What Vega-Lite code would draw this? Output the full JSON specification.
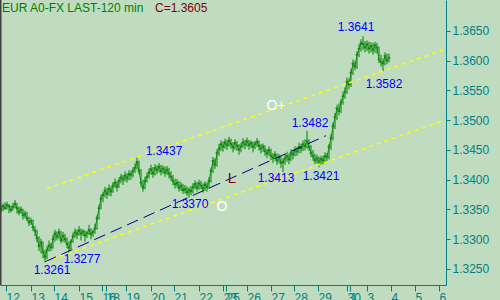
{
  "$schema": "https://vega.github.io/schema/vega-lite/v6.json",
  "width": 446,
  "height": 285,
  "autosize": "none",
  "padding": {"left": 0, "top": 0, "right": 54, "bottom": 15},
  "background": "#C0DCC0",
  "config": {
    "view": {"stroke": null},
    "font": "Liberation Sans",
    "axisX": {"grid": false, "domainColor": "#008080", "tickColor": "#008080", "labelColor": "#008080", "tickSize": 6, "labelFontSize": 12, "labelFont": "Liberation Sans", "labelAlign": "left", "labelBaseline": "top", "labelPadding": 1, "labelOverlap": false, "labelFlush": false, "labelBound": false},
    "axisY": {"grid": false, "domainColor": "#008080", "tickColor": "#008080", "labelColor": "#008080", "tickSize": 4, "labelFontSize": 12, "labelFont": "Liberation Sans", "labelPadding": 2, "labelOverlap": false, "labelFlush": false, "labelBound": false}
  },
  "datasets": {
    "px": [
      {"t":0,"c":1.3350,"h":1.3356,"l":1.3345},{"t":1,"c":1.3356,"h":1.3360,"l":1.3347},{"t":2,"c":1.3352,"h":1.3362,"l":1.3349},{"t":3,"c":1.3358,"h":1.3363,"l":1.3350},{"t":4,"c":1.3355,"h":1.3359,"l":1.3344},
      {"t":5,"c":1.3349,"h":1.3357,"l":1.3345},{"t":6,"c":1.3354,"h":1.3361,"l":1.3348},{"t":7,"c":1.3360,"h":1.3366,"l":1.3352},{"t":8,"c":1.3352,"h":1.3361,"l":1.3343},{"t":9,"c":1.3345,"h":1.3355,"l":1.3340},
      {"t":10,"c":1.3350,"h":1.3355,"l":1.3343},{"t":11,"c":1.3340,"h":1.3351,"l":1.3333},{"t":12,"c":1.3343,"h":1.3348,"l":1.3335},{"t":13,"c":1.3335,"h":1.3346,"l":1.3330},{"t":14,"c":1.3328,"h":1.3338,"l":1.3322},
      {"t":15,"c":1.3331,"h":1.3336,"l":1.3324},{"t":16,"c":1.3320,"h":1.3333,"l":1.3314},{"t":17,"c":1.3314,"h":1.3322,"l":1.3305},{"t":18,"c":1.3302,"h":1.3316,"l":1.3295},{"t":19,"c":1.3288,"h":1.3305,"l":1.3280},
      {"t":20,"c":1.3295,"h":1.3301,"l":1.3276},{"t":21,"c":1.3278,"h":1.3296,"l":1.3268},{"t":22,"c":1.3270,"h":1.3282,"l":1.3261},{"t":23,"c":1.3282,"h":1.3289,"l":1.3266},{"t":24,"c":1.3290,"h":1.3298,"l":1.3279},
      {"t":25,"c":1.3286,"h":1.3294,"l":1.3280},{"t":26,"c":1.3300,"h":1.3308,"l":1.3284},{"t":27,"c":1.3310,"h":1.3316,"l":1.3296},{"t":28,"c":1.3304,"h":1.3313,"l":1.3298},{"t":29,"c":1.3312,"h":1.3318,"l":1.3300},
      {"t":30,"c":1.3298,"h":1.3314,"l":1.3293},{"t":31,"c":1.3306,"h":1.3312,"l":1.3295},{"t":32,"c":1.3300,"h":1.3309,"l":1.3294},{"t":33,"c":1.3292,"h":1.3303,"l":1.3285},{"t":34,"c":1.3285,"h":1.3296,"l":1.3277},
      {"t":35,"c":1.3296,"h":1.3300,"l":1.3283},{"t":36,"c":1.3305,"h":1.3311,"l":1.3294},{"t":37,"c":1.3312,"h":1.3318,"l":1.3302},{"t":38,"c":1.3308,"h":1.3316,"l":1.3300},{"t":39,"c":1.3315,"h":1.3322,"l":1.3306},
      {"t":40,"c":1.3309,"h":1.3318,"l":1.3298},{"t":41,"c":1.3313,"h":1.3317,"l":1.3305},{"t":42,"c":1.3306,"h":1.3315,"l":1.3296},{"t":43,"c":1.3310,"h":1.3314,"l":1.3302},{"t":44,"c":1.3316,"h":1.3324,"l":1.3307},
      {"t":45,"c":1.3308,"h":1.3318,"l":1.3300},{"t":46,"c":1.3312,"h":1.3316,"l":1.3304},{"t":47,"c":1.3318,"h":1.3326,"l":1.3309},{"t":48,"c":1.3335,"h":1.3340,"l":1.3316},{"t":49,"c":1.3352,"h":1.3358,"l":1.3333},
      {"t":50,"c":1.3368,"h":1.3375,"l":1.3350},{"t":51,"c":1.3374,"h":1.3380,"l":1.3362},{"t":52,"c":1.3382,"h":1.3388,"l":1.3370},{"t":53,"c":1.3376,"h":1.3386,"l":1.3368},{"t":54,"c":1.3385,"h":1.3392,"l":1.3373},
      {"t":55,"c":1.3380,"h":1.3389,"l":1.3372},{"t":56,"c":1.3390,"h":1.3396,"l":1.3378},{"t":57,"c":1.3395,"h":1.3402,"l":1.3386},{"t":58,"c":1.3388,"h":1.3398,"l":1.3380},{"t":59,"c":1.3398,"h":1.3404,"l":1.3386},
      {"t":60,"c":1.3404,"h":1.3410,"l":1.3394},{"t":61,"c":1.3400,"h":1.3408,"l":1.3391},{"t":62,"c":1.3407,"h":1.3414,"l":1.3397},{"t":63,"c":1.3402,"h":1.3411,"l":1.3395},{"t":64,"c":1.3410,"h":1.3416,"l":1.3399},
      {"t":65,"c":1.3408,"h":1.3415,"l":1.3400},{"t":66,"c":1.3415,"h":1.3421,"l":1.3404},{"t":67,"c":1.3420,"h":1.3428,"l":1.3411},{"t":68,"c":1.3430,"h":1.3437,"l":1.3417},{"t":69,"c":1.3415,"h":1.3432,"l":1.3409},
      {"t":70,"c":1.3395,"h":1.3418,"l":1.3388},{"t":71,"c":1.3386,"h":1.3400,"l":1.3380},{"t":72,"c":1.3398,"h":1.3405,"l":1.3384},{"t":73,"c":1.3405,"h":1.3412,"l":1.3395},{"t":74,"c":1.3412,"h":1.3419,"l":1.3402},
      {"t":75,"c":1.3418,"h":1.3425,"l":1.3408},{"t":76,"c":1.3410,"h":1.3421,"l":1.3403},{"t":77,"c":1.3420,"h":1.3426,"l":1.3407},{"t":78,"c":1.3416,"h":1.3424,"l":1.3409},{"t":79,"c":1.3422,"h":1.3428,"l":1.3412},
      {"t":80,"c":1.3414,"h":1.3425,"l":1.3407},{"t":81,"c":1.3419,"h":1.3424,"l":1.3410},{"t":82,"c":1.3412,"h":1.3422,"l":1.3405},{"t":83,"c":1.3417,"h":1.3423,"l":1.3408},{"t":84,"c":1.3410,"h":1.3420,"l":1.3402},
      {"t":85,"c":1.3405,"h":1.3414,"l":1.3398},{"t":86,"c":1.3398,"h":1.3408,"l":1.3391},{"t":87,"c":1.3392,"h":1.3402,"l":1.3385},{"t":88,"c":1.3395,"h":1.3401,"l":1.3387},{"t":89,"c":1.3386,"h":1.3398,"l":1.3380},
      {"t":90,"c":1.3390,"h":1.3396,"l":1.3381},{"t":91,"c":1.3382,"h":1.3393,"l":1.3376},{"t":92,"c":1.3385,"h":1.3391,"l":1.3377},{"t":93,"c":1.3378,"h":1.3389,"l":1.3373},{"t":94,"c":1.3383,"h":1.3387,"l":1.3370},
      {"t":95,"c":1.3380,"h":1.3389,"l":1.3374},{"t":96,"c":1.3388,"h":1.3394,"l":1.3377},{"t":97,"c":1.3393,"h":1.3399,"l":1.3384},{"t":98,"c":1.3386,"h":1.3396,"l":1.3380},{"t":99,"c":1.3394,"h":1.3400,"l":1.3383},
      {"t":100,"c":1.3390,"h":1.3398,"l":1.3384},{"t":101,"c":1.3385,"h":1.3394,"l":1.3378},{"t":102,"c":1.3392,"h":1.3397,"l":1.3381},{"t":103,"c":1.3387,"h":1.3396,"l":1.3380},{"t":104,"c":1.3398,"h":1.3404,"l":1.3385},
      {"t":105,"c":1.3415,"h":1.3420,"l":1.3395},{"t":106,"c":1.3432,"h":1.3438,"l":1.3411},{"t":107,"c":1.3425,"h":1.3436,"l":1.3418},{"t":108,"c":1.3445,"h":1.3451,"l":1.3422},{"t":109,"c":1.3452,"h":1.3460,"l":1.3440},
      {"t":110,"c":1.3460,"h":1.3466,"l":1.3448},{"t":111,"c":1.3455,"h":1.3464,"l":1.3447},{"t":112,"c":1.3463,"h":1.3469,"l":1.3452},{"t":113,"c":1.3458,"h":1.3467,"l":1.3450},{"t":114,"c":1.3466,"h":1.3472,"l":1.3455},
      {"t":115,"c":1.3460,"h":1.3469,"l":1.3452},{"t":116,"c":1.3454,"h":1.3463,"l":1.3446},{"t":117,"c":1.3462,"h":1.3468,"l":1.3450},{"t":118,"c":1.3457,"h":1.3465,"l":1.3449},{"t":119,"c":1.3450,"h":1.3460,"l":1.3442},
      {"t":120,"c":1.3456,"h":1.3462,"l":1.3446},{"t":121,"c":1.3463,"h":1.3470,"l":1.3453},{"t":122,"c":1.3459,"h":1.3467,"l":1.3451},{"t":123,"c":1.3465,"h":1.3471,"l":1.3455},{"t":124,"c":1.3458,"h":1.3467,"l":1.3450},
      {"t":125,"c":1.3462,"h":1.3466,"l":1.3453},{"t":126,"c":1.3455,"h":1.3464,"l":1.3446},{"t":127,"c":1.3460,"h":1.3465,"l":1.3451},{"t":128,"c":1.3464,"h":1.3470,"l":1.3455},{"t":129,"c":1.3457,"h":1.3466,"l":1.3449},
      {"t":130,"c":1.3452,"h":1.3460,"l":1.3444},{"t":131,"c":1.3456,"h":1.3461,"l":1.3447},{"t":132,"c":1.3448,"h":1.3458,"l":1.3440},{"t":133,"c":1.3444,"h":1.3452,"l":1.3436},{"t":134,"c":1.3450,"h":1.3456,"l":1.3440},
      {"t":135,"c":1.3440,"h":1.3452,"l":1.3433},{"t":136,"c":1.3436,"h":1.3445,"l":1.3428},{"t":137,"c":1.3442,"h":1.3448,"l":1.3432},{"t":138,"c":1.3432,"h":1.3444,"l":1.3425},{"t":139,"c":1.3438,"h":1.3443,"l":1.3428},
      {"t":140,"c":1.3428,"h":1.3440,"l":1.3420},{"t":141,"c":1.3430,"h":1.3436,"l":1.3413},{"t":142,"c":1.3436,"h":1.3443,"l":1.3425},{"t":143,"c":1.3440,"h":1.3447,"l":1.3430},{"t":144,"c":1.3434,"h":1.3444,"l":1.3426},
      {"t":145,"c":1.3445,"h":1.3451,"l":1.3431},{"t":146,"c":1.3442,"h":1.3450,"l":1.3434},{"t":147,"c":1.3450,"h":1.3456,"l":1.3439},{"t":148,"c":1.3447,"h":1.3455,"l":1.3440},{"t":149,"c":1.3455,"h":1.3462,"l":1.3444},
      {"t":150,"c":1.3452,"h":1.3460,"l":1.3445},{"t":151,"c":1.3460,"h":1.3466,"l":1.3448},{"t":152,"c":1.3456,"h":1.3468,"l":1.3449},{"t":153,"c":1.3465,"h":1.3482,"l":1.3452},{"t":154,"c":1.3455,"h":1.3468,"l":1.3448},
      {"t":155,"c":1.3445,"h":1.3458,"l":1.3438},{"t":156,"c":1.3440,"h":1.3450,"l":1.3432},{"t":157,"c":1.3432,"h":1.3444,"l":1.3426},{"t":158,"c":1.3436,"h":1.3442,"l":1.3427},{"t":159,"c":1.3430,"h":1.3439,"l":1.3421},
      {"t":160,"c":1.3435,"h":1.3440,"l":1.3425},{"t":161,"c":1.3432,"h":1.3440,"l":1.3426},{"t":162,"c":1.3440,"h":1.3446,"l":1.3429},{"t":163,"c":1.3438,"h":1.3445,"l":1.3431},{"t":164,"c":1.3455,"h":1.3460,"l":1.3434},
      {"t":165,"c":1.3470,"h":1.3476,"l":1.3450},{"t":166,"c":1.3490,"h":1.3496,"l":1.3466},{"t":167,"c":1.3505,"h":1.3512,"l":1.3485},{"t":168,"c":1.3520,"h":1.3526,"l":1.3500},{"t":169,"c":1.3515,"h":1.3528,"l":1.3508},
      {"t":170,"c":1.3530,"h":1.3536,"l":1.3512},{"t":171,"c":1.3540,"h":1.3548,"l":1.3526},{"t":172,"c":1.3548,"h":1.3555,"l":1.3536},{"t":173,"c":1.3565,"h":1.3572,"l":1.3544},{"t":174,"c":1.3560,"h":1.3570,"l":1.3552},
      {"t":175,"c":1.3580,"h":1.3586,"l":1.3556},{"t":176,"c":1.3595,"h":1.3602,"l":1.3576},{"t":177,"c":1.3590,"h":1.3600,"l":1.3584},{"t":178,"c":1.3610,"h":1.3616,"l":1.3586},{"t":179,"c":1.3620,"h":1.3628,"l":1.3606},
      {"t":180,"c":1.3630,"h":1.3636,"l":1.3615},{"t":181,"c":1.3628,"h":1.3641,"l":1.3618},{"t":182,"c":1.3622,"h":1.3633,"l":1.3614},{"t":183,"c":1.3628,"h":1.3634,"l":1.3616},{"t":184,"c":1.3620,"h":1.3632,"l":1.3612},
      {"t":185,"c":1.3625,"h":1.3631,"l":1.3614},{"t":186,"c":1.3618,"h":1.3630,"l":1.3610},{"t":187,"c":1.3626,"h":1.3632,"l":1.3613},{"t":188,"c":1.3622,"h":1.3630,"l":1.3612},{"t":189,"c":1.3602,"h":1.3624,"l":1.3596},
      {"t":190,"c":1.3598,"h":1.3610,"l":1.3590},{"t":191,"c":1.3595,"h":1.3604,"l":1.3582},{"t":192,"c":1.3608,"h":1.3614,"l":1.3592},{"t":193,"c":1.3600,"h":1.3612,"l":1.3594},{"t":194,"c":1.3605,"h":1.3612,"l":1.3597}
    ],
    "lines": [
      {"g":"up","t":23,"p":1.3385},{"g":"up","t":221,"p":1.3618},
      {"g":"lo","t":22,"p":1.3262},{"g":"lo","t":221,"p":1.3499},
      {"g":"mid","t":22,"p":1.3262},{"g":"mid","t":162.5,"p":1.3474}
    ],
    "ann": [
      {"k":"lvl","t":177.5,"p":1.3656,"txt":"1.3641"},
      {"k":"lvl","t":191.5,"p":1.3561,"txt":"1.3582"},
      {"k":"lvl","t":81.5,"p":1.3448,"txt":"1.3437"},
      {"k":"lvl","t":154.5,"p":1.3495,"txt":"1.3482"},
      {"k":"lvl","t":137.5,"p":1.3403,"txt":"1.3413"},
      {"k":"lvl","t":160,"p":1.3406,"txt":"1.3421"},
      {"k":"lvl","t":94.5,"p":1.3359,"txt":"1.3370"},
      {"k":"lvl","t":40.5,"p":1.3267,"txt":"1.3277"},
      {"k":"lvl","t":25.5,"p":1.3248,"txt":"1.3261"},
      {"k":"ttl","t":0.5,"p":1.3689,"txt":"EUR A0-FX LAST-120 min"},
      {"k":"cl","t":77,"p":1.3689,"txt":"C=1.3605"},
      {"k":"mk","t":137.5,"p":1.3524,"txt":"O+"},
      {"k":"mk","t":110.5,"p":1.3354,"txt":"O"},
      {"k":"L","t":115.5,"p":1.3403,"txt":"L"}
    ],
    "edge": [{"t":-0.5}]
  },
  "layer": [
    {
      "data": {"name": "px"},
      "mark": {"type": "rule", "color": "#008000", "strokeWidth": 1},
      "encoding": {
        "x": {"field": "t", "type": "quantitative", "title": null, "scale": {"domain": [-0.5, 222.5], "nice": false, "zero": false},
          "axis": {"labelOverlap": false, "values": [2.5,15,26.5,39,50.5,52.5,62.5,75,86.5,99,111,112.5,123,135,146.5,158.5,173,174.5,183,195,207,219], "labelExpr": "['12','13','14','15','16','18','19','20','21','22','23','25','26','27','28','29','30','1','3','4','5','6'][indexof([2.5,15,26.5,39,50.5,52.5,62.5,75,86.5,99,111,112.5,123,135,146.5,158.5,173,174.5,183,195,207,219], datum.value)]"}},
        "y": {"field": "l", "type": "quantitative", "title": null, "scale": {"domain": [1.3223, 1.3702], "nice": false, "zero": false},
          "axis": {"orient": "right", "labelOverlap": false, "values": [1.325,1.33,1.335,1.34,1.345,1.35,1.355,1.36,1.365], "format": ".4f"}},
        "y2": {"field": "h"}
      }
    },
    {
      "data": {"name": "px"},
      "mark": {"type": "tick", "color": "#008000", "size": 3, "thickness": 1.5, "orient": "horizontal"},
      "encoding": {
        "x": {"field": "t", "type": "quantitative", "title": null,
          "axis": {"labelOverlap": false, "values": [2.5,15,26.5,39,50.5,52.5,62.5,75,86.5,99,111,112.5,123,135,146.5,158.5,173,174.5,183,195,207,219], "labelExpr": "['12','13','14','15','16','18','19','20','21','22','23','25','26','27','28','29','30','1','3','4','5','6'][indexof([2.5,15,26.5,39,50.5,52.5,62.5,75,86.5,99,111,112.5,123,135,146.5,158.5,173,174.5,183,195,207,219], datum.value)]"}},
        "y": {"field": "c", "type": "quantitative", "title": null,
          "axis": {"orient": "right", "labelOverlap": false, "values": [1.325,1.33,1.335,1.34,1.345,1.35,1.355,1.36,1.365], "format": ".4f"}}
      }
    },
    {
      "data": {"name": "px"},
      "mark": {"type": "line", "color": "#008000", "strokeWidth": 0.8},
      "encoding": {
        "x": {"field": "t", "type": "quantitative", "title": null,
          "axis": {"labelOverlap": false, "values": [2.5,15,26.5,39,50.5,52.5,62.5,75,86.5,99,111,112.5,123,135,146.5,158.5,173,174.5,183,195,207,219], "labelExpr": "['12','13','14','15','16','18','19','20','21','22','23','25','26','27','28','29','30','1','3','4','5','6'][indexof([2.5,15,26.5,39,50.5,52.5,62.5,75,86.5,99,111,112.5,123,135,146.5,158.5,173,174.5,183,195,207,219], datum.value)]"}},
        "y": {"field": "c", "type": "quantitative", "title": null,
          "axis": {"orient": "right", "labelOverlap": false, "values": [1.325,1.33,1.335,1.34,1.345,1.35,1.355,1.36,1.365], "format": ".4f"}}
      }
    },
    {
      "data": {"name": "lines"},
      "transform": [{"filter": "datum.g != 'mid'"}],
      "mark": {"type": "line", "color": "#FFFF00", "strokeWidth": 1.5, "strokeDash": [4, 4]},
      "encoding": {
        "x": {"field": "t", "type": "quantitative", "title": null,
          "axis": {"labelOverlap": false, "values": [2.5,15,26.5,39,50.5,52.5,62.5,75,86.5,99,111,112.5,123,135,146.5,158.5,173,174.5,183,195,207,219], "labelExpr": "['12','13','14','15','16','18','19','20','21','22','23','25','26','27','28','29','30','1','3','4','5','6'][indexof([2.5,15,26.5,39,50.5,52.5,62.5,75,86.5,99,111,112.5,123,135,146.5,158.5,173,174.5,183,195,207,219], datum.value)]"}},
        "y": {"field": "p", "type": "quantitative", "title": null,
          "axis": {"orient": "right", "labelOverlap": false, "values": [1.325,1.33,1.335,1.34,1.345,1.35,1.355,1.36,1.365], "format": ".4f"}},
        "detail": {"field": "g"}
      }
    },
    {
      "data": {"name": "lines"},
      "transform": [{"filter": "datum.g == 'mid'"}],
      "mark": {"type": "line", "color": "#000080", "strokeWidth": 1, "strokeDash": [12, 6]},
      "encoding": {
        "x": {"field": "t", "type": "quantitative", "title": null,
          "axis": {"labelOverlap": false, "values": [2.5,15,26.5,39,50.5,52.5,62.5,75,86.5,99,111,112.5,123,135,146.5,158.5,173,174.5,183,195,207,219], "labelExpr": "['12','13','14','15','16','18','19','20','21','22','23','25','26','27','28','29','30','1','3','4','5','6'][indexof([2.5,15,26.5,39,50.5,52.5,62.5,75,86.5,99,111,112.5,123,135,146.5,158.5,173,174.5,183,195,207,219], datum.value)]"}},
        "y": {"field": "p", "type": "quantitative", "title": null,
          "axis": {"orient": "right", "labelOverlap": false, "values": [1.325,1.33,1.335,1.34,1.345,1.35,1.355,1.36,1.365], "format": ".4f"}}
      }
    },
    {
      "data": {"name": "ann"},
      "transform": [{"filter": "datum.k == 'lvl'"}],
      "mark": {"type": "text", "color": "#0000FF", "fontSize": 12, "font": "Liberation Sans", "align": "center", "baseline": "middle"},
      "encoding": {
        "x": {"field": "t", "type": "quantitative", "title": null,
          "axis": {"labelOverlap": false, "values": [2.5,15,26.5,39,50.5,52.5,62.5,75,86.5,99,111,112.5,123,135,146.5,158.5,173,174.5,183,195,207,219], "labelExpr": "['12','13','14','15','16','18','19','20','21','22','23','25','26','27','28','29','30','1','3','4','5','6'][indexof([2.5,15,26.5,39,50.5,52.5,62.5,75,86.5,99,111,112.5,123,135,146.5,158.5,173,174.5,183,195,207,219], datum.value)]"}},
        "y": {"field": "p", "type": "quantitative", "title": null,
          "axis": {"orient": "right", "labelOverlap": false, "values": [1.325,1.33,1.335,1.34,1.345,1.35,1.355,1.36,1.365], "format": ".4f"}},
        "text": {"field": "txt"}
      }
    },
    {
      "data": {"name": "ann"},
      "transform": [{"filter": "datum.k == 'ttl'"}],
      "mark": {"type": "text", "color": "#008000", "fontSize": 12, "font": "Liberation Sans", "align": "left", "baseline": "middle"},
      "encoding": {
        "x": {"field": "t", "type": "quantitative", "title": null,
          "axis": {"labelOverlap": false, "values": [2.5,15,26.5,39,50.5,52.5,62.5,75,86.5,99,111,112.5,123,135,146.5,158.5,173,174.5,183,195,207,219], "labelExpr": "['12','13','14','15','16','18','19','20','21','22','23','25','26','27','28','29','30','1','3','4','5','6'][indexof([2.5,15,26.5,39,50.5,52.5,62.5,75,86.5,99,111,112.5,123,135,146.5,158.5,173,174.5,183,195,207,219], datum.value)]"}},
        "y": {"field": "p", "type": "quantitative", "title": null,
          "axis": {"orient": "right", "labelOverlap": false, "values": [1.325,1.33,1.335,1.34,1.345,1.35,1.355,1.36,1.365], "format": ".4f"}},
        "text": {"field": "txt"}
      }
    },
    {
      "data": {"name": "ann"},
      "transform": [{"filter": "datum.k == 'cl'"}],
      "mark": {"type": "text", "color": "#800000", "fontSize": 12, "font": "Liberation Sans", "align": "left", "baseline": "middle"},
      "encoding": {
        "x": {"field": "t", "type": "quantitative", "title": null,
          "axis": {"labelOverlap": false, "values": [2.5,15,26.5,39,50.5,52.5,62.5,75,86.5,99,111,112.5,123,135,146.5,158.5,173,174.5,183,195,207,219], "labelExpr": "['12','13','14','15','16','18','19','20','21','22','23','25','26','27','28','29','30','1','3','4','5','6'][indexof([2.5,15,26.5,39,50.5,52.5,62.5,75,86.5,99,111,112.5,123,135,146.5,158.5,173,174.5,183,195,207,219], datum.value)]"}},
        "y": {"field": "p", "type": "quantitative", "title": null,
          "axis": {"orient": "right", "labelOverlap": false, "values": [1.325,1.33,1.335,1.34,1.345,1.35,1.355,1.36,1.365], "format": ".4f"}},
        "text": {"field": "txt"}
      }
    },
    {
      "data": {"name": "ann"},
      "transform": [{"filter": "datum.k == 'mk'"}],
      "mark": {"type": "text", "color": "#FFFFFF", "fontSize": 14, "font": "Liberation Sans", "align": "center", "baseline": "middle"},
      "encoding": {
        "x": {"field": "t", "type": "quantitative", "title": null,
          "axis": {"labelOverlap": false, "values": [2.5,15,26.5,39,50.5,52.5,62.5,75,86.5,99,111,112.5,123,135,146.5,158.5,173,174.5,183,195,207,219], "labelExpr": "['12','13','14','15','16','18','19','20','21','22','23','25','26','27','28','29','30','1','3','4','5','6'][indexof([2.5,15,26.5,39,50.5,52.5,62.5,75,86.5,99,111,112.5,123,135,146.5,158.5,173,174.5,183,195,207,219], datum.value)]"}},
        "y": {"field": "p", "type": "quantitative", "title": null,
          "axis": {"orient": "right", "labelOverlap": false, "values": [1.325,1.33,1.335,1.34,1.345,1.35,1.355,1.36,1.365], "format": ".4f"}},
        "text": {"field": "txt"}
      }
    },
    {
      "data": {"name": "ann"},
      "transform": [{"filter": "datum.k == 'L'"}],
      "mark": {"type": "text", "color": "#800000", "fontSize": 15, "font": "Liberation Sans", "align": "center", "baseline": "middle"},
      "encoding": {
        "x": {"field": "t", "type": "quantitative", "title": null,
          "axis": {"labelOverlap": false, "values": [2.5,15,26.5,39,50.5,52.5,62.5,75,86.5,99,111,112.5,123,135,146.5,158.5,173,174.5,183,195,207,219], "labelExpr": "['12','13','14','15','16','18','19','20','21','22','23','25','26','27','28','29','30','1','3','4','5','6'][indexof([2.5,15,26.5,39,50.5,52.5,62.5,75,86.5,99,111,112.5,123,135,146.5,158.5,173,174.5,183,195,207,219], datum.value)]"}},
        "y": {"field": "p", "type": "quantitative", "title": null,
          "axis": {"orient": "right", "labelOverlap": false, "values": [1.325,1.33,1.335,1.34,1.345,1.35,1.355,1.36,1.365], "format": ".4f"}},
        "text": {"field": "txt"}
      }
    },
    {
      "data": {"name": "edge"},
      "mark": {"type": "rule", "color": "#404040", "strokeWidth": 3},
      "encoding": {
        "x": {"field": "t", "type": "quantitative", "title": null,
          "axis": {"labelOverlap": false, "values": [2.5,15,26.5,39,50.5,52.5,62.5,75,86.5,99,111,112.5,123,135,146.5,158.5,173,174.5,183,195,207,219], "labelExpr": "['12','13','14','15','16','18','19','20','21','22','23','25','26','27','28','29','30','1','3','4','5','6'][indexof([2.5,15,26.5,39,50.5,52.5,62.5,75,86.5,99,111,112.5,123,135,146.5,158.5,173,174.5,183,195,207,219], datum.value)]"}}
      }
    }
  ]
}
